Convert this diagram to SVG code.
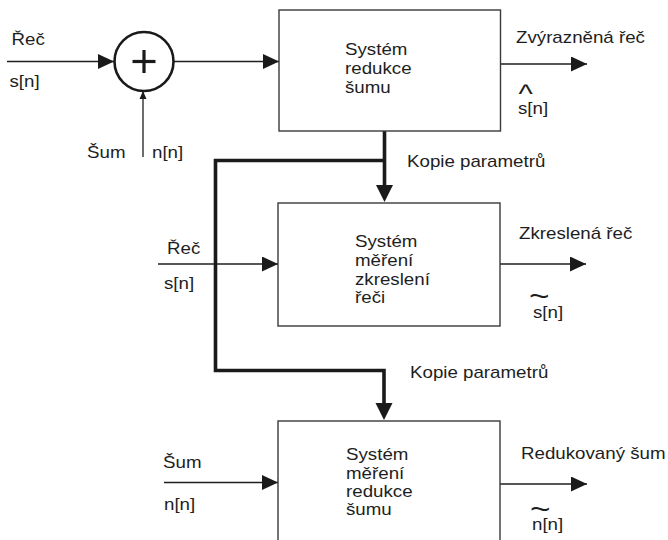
<svg xmlns="http://www.w3.org/2000/svg" width="668" height="540" viewBox="0 0 668 540">
  <style>
    .t { font-family: "Liberation Sans", Arial, sans-serif; font-size: 16px; fill: #1e1e1e; }
    .acc { font-size: 30px; }
    .hat { font-size: 26px; }
    .box { fill: #ffffff; stroke: #3a3a3a; stroke-width: 1.4; }
    .wire { fill: none; stroke: #1e1e1e; stroke-width: 1.3; }
    .bus { fill: none; stroke: #1a1a1a; stroke-width: 3.6; stroke-linejoin: miter; }
  </style>
  <defs>
    <marker id="arr" markerUnits="userSpaceOnUse" markerWidth="17" markerHeight="15" refX="16" refY="7.5" orient="auto">
      <path d="M0,0 L16,7.5 L0,15 z" fill="#1a1a1a"/>
    </marker>
    <marker id="arrSmall" markerUnits="userSpaceOnUse" markerWidth="9" markerHeight="8" refX="8" refY="4" orient="auto">
      <path d="M0,0.5 L8,4 L0,7.5 z" fill="#1a1a1a"/>
    </marker>
    <marker id="arrBus" markerUnits="userSpaceOnUse" markerWidth="18" markerHeight="18" refX="7" refY="8.5" orient="auto">
      <path d="M0,0 L17,8.5 L0,17 z" fill="#1a1a1a"/>
    </marker>
  </defs>

  <rect width="668" height="540" fill="#ffffff"/>

  <!-- connectors -->
  <g id="connectors">
    <line class="wire" x1="7" y1="61.5" x2="114" y2="61.5" marker-end="url(#arr)"/>
    <line class="wire" x1="143" y1="157" x2="143" y2="91" marker-end="url(#arrSmall)"/>
    <line class="wire" x1="173" y1="61.5" x2="279" y2="61.5" marker-end="url(#arr)"/>
    <line class="wire" x1="500.5" y1="64" x2="587" y2="64" marker-end="url(#arr)"/>

    <line class="wire" x1="158" y1="264" x2="278" y2="264" marker-end="url(#arr)"/>
    <line class="wire" x1="500" y1="264" x2="586" y2="264" marker-end="url(#arr)"/>

    <line class="wire" x1="164" y1="482.5" x2="278" y2="482.5" marker-end="url(#arr)"/>
    <line class="wire" x1="500" y1="484" x2="587" y2="484" marker-end="url(#arr)"/>

    <!-- parameter copies -->
    <path class="bus" d="M384.5,131 V192" marker-end="url(#arrBus)"/>
    <path class="bus" d="M384.5,160.5 H215.5 V370.5 H384 V410" marker-end="url(#arrBus)"/>
  </g>

  <!-- summing junction -->
  <g id="sum">
    <circle cx="144" cy="61.5" r="29.5" fill="#ffffff" stroke="#1a1a1a" stroke-width="2.6"/>
    <line x1="132.5" y1="61.5" x2="155.5" y2="61.5" stroke="#1a1a1a" stroke-width="3.2"/>
    <line x1="144" y1="50" x2="144" y2="73" stroke="#1a1a1a" stroke-width="3.2"/>
  </g>

  <g id="labels-input">
    <text class="t" transform="translate(11.5 45) scale(1.17 1)">Řeč</text>
    <text class="t" transform="translate(9.5 87) scale(1.17 1)">s[n]</text>
    <text class="t" transform="translate(87 158) scale(1.17 1)">Šum</text>
    <text class="t" transform="translate(152 158) scale(1.17 1)">n[n]</text>
  </g>

  <!-- noise reduction system -->
  <g id="node-reduction">
    <rect class="box" x="279" y="10" width="221.5" height="121"/>
    <text class="t" transform="translate(345 55) scale(1.17 1)">Systém</text>
    <text class="t" transform="translate(345 74) scale(1.17 1)">redukce</text>
    <text class="t" transform="translate(345 93) scale(1.17 1)">šumu</text>
    <text class="t" transform="translate(516 43) scale(1.17 1)">Zvýrazněná řeč</text>
    <text class="t" transform="translate(518 114) scale(1.17 1)"><tspan class="hat" x="0.5" y="-11">^</tspan><tspan x="0" y="0">s[n]</tspan></text>
    <text class="t" transform="translate(407 167) scale(1.17 1)">Kopie parametrů</text>
  </g>

  <!-- speech distortion measurement -->
  <g id="node-distortion">
    <rect class="box" x="278" y="203" width="222" height="123"/>
    <text class="t" transform="translate(355 247) scale(1.17 1)">Systém</text>
    <text class="t" transform="translate(355 266) scale(1.17 1)">měření</text>
    <text class="t" transform="translate(355 285) scale(1.17 1)">zkreslení</text>
    <text class="t" transform="translate(355 303) scale(1.17 1)">řeči</text>
    <text class="t" transform="translate(167 254) scale(1.17 1)">Řeč</text>
    <text class="t" transform="translate(164 289) scale(1.17 1)">s[n]</text>
    <text class="t" transform="translate(519 239) scale(1.17 1)">Zkreslená řeč</text>
    <text class="t" transform="translate(533 318) scale(1.17 1)"><tspan class="acc" x="-3.4" y="-12">~</tspan><tspan x="0" y="0">s[n]</tspan></text>
    <text class="t" transform="translate(410 378) scale(1.17 1)">Kopie parametrů</text>
  </g>

  <!-- noise reduction measurement -->
  <g id="node-noise">
    <rect class="box" x="278" y="421" width="222" height="140"/>
    <text class="t" transform="translate(346 460) scale(1.17 1)">Systém</text>
    <text class="t" transform="translate(346 479) scale(1.17 1)">měření</text>
    <text class="t" transform="translate(346 497) scale(1.17 1)">redukce</text>
    <text class="t" transform="translate(346 515) scale(1.17 1)">šumu</text>
    <text class="t" transform="translate(163 468) scale(1.17 1)">Šum</text>
    <text class="t" transform="translate(164 510) scale(1.17 1)">n[n]</text>
    <text class="t" transform="translate(521 459) scale(1.17 1)">Redukovaný šum</text>
    <text class="t" transform="translate(532 530) scale(1.17 1)"><tspan class="acc" x="-1.7" y="-11">~</tspan><tspan x="0" y="0">n[n]</tspan></text>
  </g>
</svg>
